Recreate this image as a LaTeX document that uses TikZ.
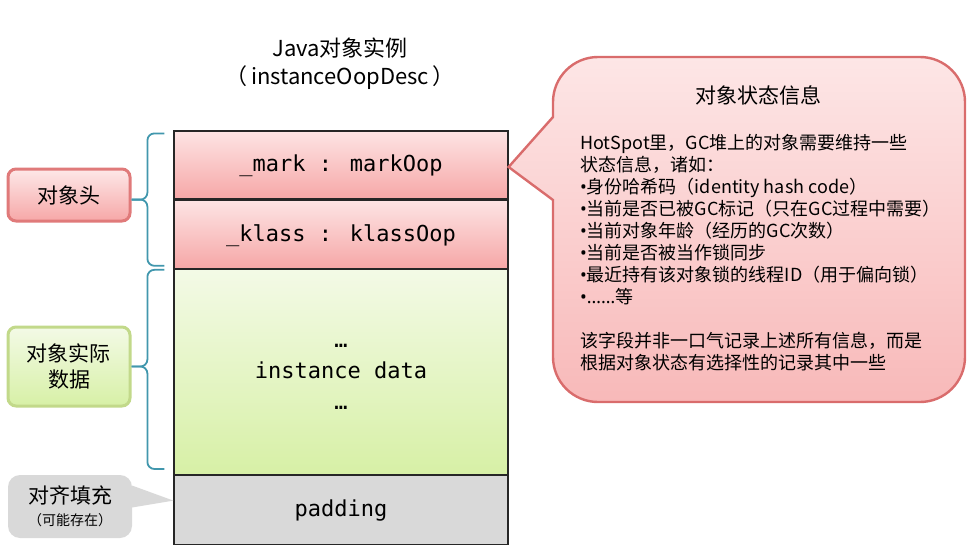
\documentclass[tikz,border=0pt]{standalone}
\usepackage{fontspec}
\usepackage{xcolor}
\usepackage{tikz}
\usetikzlibrary{positioning}

\newfontfamily\cjk{Noto Sans CJK SC}
\newfontfamily\codefont{DejaVu Sans Mono}
\newfontfamily\latinfont{Noto Sans}

\definecolor{hdrTop}{HTML}{FDE4E4}
\definecolor{hdrBot}{HTML}{F6A7A7}
\definecolor{datTop}{HTML}{F3FAE6}
\definecolor{datBot}{HTML}{D7F0A6}
\definecolor{padGray}{HTML}{D9D9D9}
\definecolor{tagRedLine}{HTML}{E07A7A}
\definecolor{tagGreenLine}{HTML}{C2D98A}
\definecolor{braceTeal}{HTML}{4197AD}
\definecolor{noteLine}{HTML}{D96C6C}
\definecolor{noteTop}{HTML}{FDE6E6}
\definecolor{noteBot}{HTML}{F8B9B9}

\begin{document}
\begin{tikzpicture}[
  % --- global style ---
  x=1pt, y=1pt,
  every node/.style={font=\cjk},
  field/.style={
    draw=black!85, line width=1.2pt, inner sep=0pt,
    minimum width=334pt,
    font=\codefont\fontsize{22}{26}\selectfont
  },
  hdrfield/.style={
    field, minimum height=68pt, top color=hdrTop, bottom color=hdrBot
  },
  tag/.style={
    rounded corners=8pt, line width=3pt, inner sep=0pt,
    minimum width=122pt, align=center,
    font=\cjk\fontsize{21}{26}\selectfont
  },
  brc/.style={draw=braceTeal, line width=1.8pt, rounded corners=7pt},
]
\useasboundingbox (0,0) rectangle (975,-551);

% ====== Title ======
\node[align=center, font=\cjk\fontsize{22}{28}\selectfont] (title) at (340,-64)
  {Java对象实例\\（\,instanceOopDesc\,）};

% ====== Object layout (column) ======
\node[hdrfield, text depth=3pt] (mark) at (341,-165) {\_mark : markOop};
\node[hdrfield, text depth=3pt, below=0pt of mark] (klass) {\_klass : klassOop};
\node[field, below=0pt of klass, minimum height=205pt,
      top color=datTop, bottom color=datBot, align=center,
      font=\codefont\fontsize{22}{31}\selectfont] (data)
  {\rule{0pt}{14pt}…\\instance data\\…};
\node[field, below=0pt of data, minimum height=69pt, fill=padGray] (pad) {padding};

% ====== Left side: tags ======
\node[tag, draw=tagRedLine, top color=hdrTop!85!white, bottom color=hdrBot,
      minimum height=52pt] (headtag) at (69,-195) {对象头};
\node[tag, draw=tagGreenLine, top color=datTop, bottom color=datBot,
      minimum height=79pt] (datatag) at (69,-366.5) {对象实际\\数据};
\node[tag, fill=padGray, rounded corners=12pt, line width=0pt,
      minimum width=124pt, minimum height=63pt] (padtag) at (70,-506.5)
  {对齐填充\\[-4pt]{\fontsize{14}{16}\selectfont （可能存在）}};

% pointer of the padding tag
\fill[padGray] ([yshift=21pt]padtag.east) -- ([yshift=9.5pt]pad.west)
  -- ([yshift=-1pt]padtag.east) -- cycle;

% braces
\draw[brc] ([xshift=-9pt,yshift=-3pt]mark.north west)
  -| ([xshift=-26pt]klass.north west) -- (headtag.east |- klass.north);
\draw[brc] ([xshift=-9pt,yshift=3pt]klass.south west)
  -| ([xshift=-26pt]klass.north west) -- (headtag.east |- klass.north);
\draw[brc] ([xshift=-9pt,yshift=-1pt]data.north west)
  -| ([xshift=-26pt]data.west |- datatag.east) -- (datatag.east);
\draw[brc] ([xshift=-9pt,yshift=6pt]data.south west)
  -| ([xshift=-26pt]data.west |- datatag.east) -- (datatag.east);

% ====== Right side: state callout ======
\coordinate (tip) at ([yshift=-2pt]mark.east);
\draw[draw=noteLine, line width=2.4pt, top color=noteTop, bottom color=noteBot]
  (tip) -- (553,-117) -- (553,-102) arc[start angle=180, end angle=90, radius=45]
  -- (920,-57) arc[start angle=90, end angle=0, radius=45]
  -- (965,-357) arc[start angle=0, end angle=-90, radius=45]
  -- (598,-402) arc[start angle=-90, end angle=-180, radius=45]
  -- (553,-200) -- cycle;

\node[font=\cjk\fontsize{21}{26}\selectfont] (statetitle) at (758,-95) {对象状态信息};
\node[anchor=north west, align=left, inner sep=0pt,
      font=\cjk\fontsize{18}{22}\selectfont] (statetext) at (580,-134)
  {HotSpot里，GC堆上的对象需要维持一些\\
   状态信息，诸如：\\
   {\latinfont •}身份哈希码（identity hash code）\\
   {\latinfont •}当前是否已被GC标记（只在GC过程中需要）\\
   {\latinfont •}当前对象年龄（经历的GC次数）\\
   {\latinfont •}当前是否被当作锁同步\\
   {\latinfont •}最近持有该对象锁的线程ID（用于偏向锁）\\
   {\latinfont •……}等\\[22pt]
   该字段并非一口气记录上述所有信息，而是\\
   根据对象状态有选择性的记录其中一些};

\end{tikzpicture}
\end{document}
